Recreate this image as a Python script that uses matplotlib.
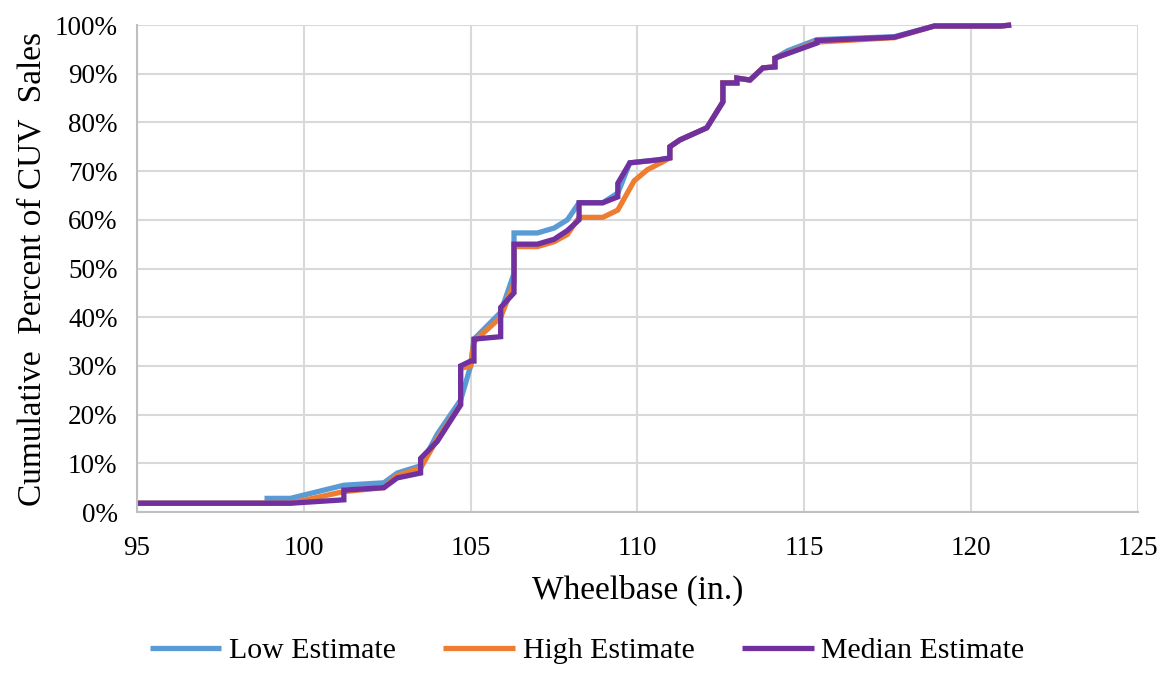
import matplotlib
matplotlib.use("Agg")
import matplotlib.pyplot as plt
from matplotlib.ticker import FuncFormatter

# Data (wheelbase in inches, cumulative percent of CUV sales)
low_x = [95.0, 98.9, 98.9, 99.6, 101.2, 102.4, 102.8, 103.5, 104.0, 104.7, 105.0, 105.1,
         105.9, 106.3, 106.3, 107.0, 107.5, 107.9, 108.25, 108.96, 109.41, 109.5, 109.77,
         110.61, 110.97, 110.97, 111.27, 112.08, 112.56, 112.56, 112.98, 112.98, 113.37,
         113.76, 114.12, 114.12, 114.5, 115.38, 117.7, 118.9, 120.9, 121.2]
low_y = [1.8, 1.8, 2.8, 2.8, 5.5, 6.0, 8.0, 9.5, 16.0, 23.0, 30.0, 35.5,
         41.0, 49.0, 57.3, 57.3, 58.3, 60.0, 63.5, 63.5, 65.5, 67.0, 71.7,
         72.3, 72.7, 75.0, 76.4, 78.9, 84.2, 88.1, 88.1, 89.1, 88.7,
         91.2, 91.4, 93.2, 94.7, 97.0, 97.6, 99.8, 99.8, 100.0]

high_x = [95.0, 99.6, 101.2, 102.4, 102.8, 103.5, 104.0, 104.7, 104.7, 105.0, 105.1,
          105.9, 106.3, 106.3, 107.0, 107.5, 107.9, 108.25, 108.96, 109.41, 109.9,
          110.3, 110.7, 110.97, 110.97, 111.27, 112.08, 112.56, 112.56, 112.98, 112.98,
          113.37, 113.76, 114.12, 114.12, 114.5, 115.38, 117.7, 118.9, 120.9, 121.2]
high_y = [1.8, 1.8, 4.2, 5.0, 7.5, 9.0, 15.0, 22.0, 29.5, 30.0, 35.0,
          40.0, 47.0, 54.5, 54.5, 55.5, 57.0, 60.5, 60.5, 62.0, 68.0,
          70.3, 71.7, 72.7, 75.0, 76.4, 78.9, 84.2, 88.1, 88.1, 89.1,
          88.7, 91.2, 91.4, 93.2, 94.2, 96.5, 97.4, 99.8, 99.8, 100.0]

med_x = [95.0, 99.6, 101.2, 101.2, 102.4, 102.8, 103.5, 103.5, 104.0, 104.7, 104.7, 105.0,
         105.1, 105.1, 105.9, 105.9, 106.3, 106.3, 107.0, 107.5, 107.9, 108.25, 108.25,
         108.96, 109.41, 109.41, 109.77, 110.61, 110.97, 110.97, 111.27, 112.08, 112.56,
         112.56, 112.98, 112.98, 113.37, 113.76, 114.12, 114.12, 115.38, 115.38, 117.7,
         118.9, 120.9, 121.2]
med_y = [1.8, 1.8, 2.5, 4.5, 5.0, 7.0, 8.0, 11.0, 14.5, 22.0, 30.0, 31.0,
         31.0, 35.5, 36.0, 42.0, 45.0, 55.0, 55.0, 56.0, 57.8, 60.0, 63.5,
         63.5, 64.7, 67.5, 71.7, 72.3, 72.7, 75.0, 76.4, 78.9, 84.2,
         88.1, 88.1, 89.1, 88.7, 91.2, 91.4, 93.2, 96.3, 96.8, 97.5,
         99.8, 99.8, 100.0]

series_names = ["Low Estimate", "High Estimate", "Median Estimate"]
series_colors = ["#5b9bd5", "#ed7d31", "#7030a0"]
x_ticks = [95, 100, 105, 110, 115, 120, 125]
y_ticks = [0, 10, 20, 30, 40, 50, 60, 70, 80, 90, 100]

plt.rcParams['font.family'] = ['Liberation Serif', 'DejaVu Serif']

fig = plt.figure(figsize=(11.67, 6.76), dpi=100)
ax = fig.add_axes([0.1174, 0.2426, 0.8577, 0.7204])

for xs, ys, name, col in zip([low_x, high_x, med_x], [low_y, high_y, med_y],
                             series_names, series_colors):
    ax.plot(xs, ys, color=col, lw=3.8, label=name, solid_joinstyle='miter',
            solid_capstyle='butt', clip_on=False)

ax.set_xlim(95, 125)
ax.set_ylim(0, 100)
ax.set_xticks(x_ticks)
ax.set_yticks(y_ticks)
ax.yaxis.set_major_formatter(FuncFormatter(lambda v, p: f"{int(v)}%"))
ax.grid(True, color="#d9d9d9", lw=1.5)
ax.set_axisbelow(True)
for s in ["top", "right"]:
    ax.spines[s].set_visible(False)
for s in ["left", "bottom"]:
    ax.spines[s].set_color("#bfbfbf")
    ax.spines[s].set_linewidth(1.5)
ax.tick_params(length=0, labelsize=19.5, colors="black")
ax.tick_params(axis='y', pad=14)
ax.tick_params(axis='x', pad=17)

ax.set_xlabel("Wheelbase (in.)", fontsize=24, labelpad=10)
ax.set_ylabel("Cumulative  Percent of CUV  Sales", fontsize=24, labelpad=5)

leg = fig.legend(loc="lower center", bbox_to_anchor=(0.503, -0.022), ncol=3, frameon=False,
                 fontsize=21.5, handlelength=2.4, columnspacing=1.6, handletextpad=0.25)

fig.savefig("out.png", dpi=100)
